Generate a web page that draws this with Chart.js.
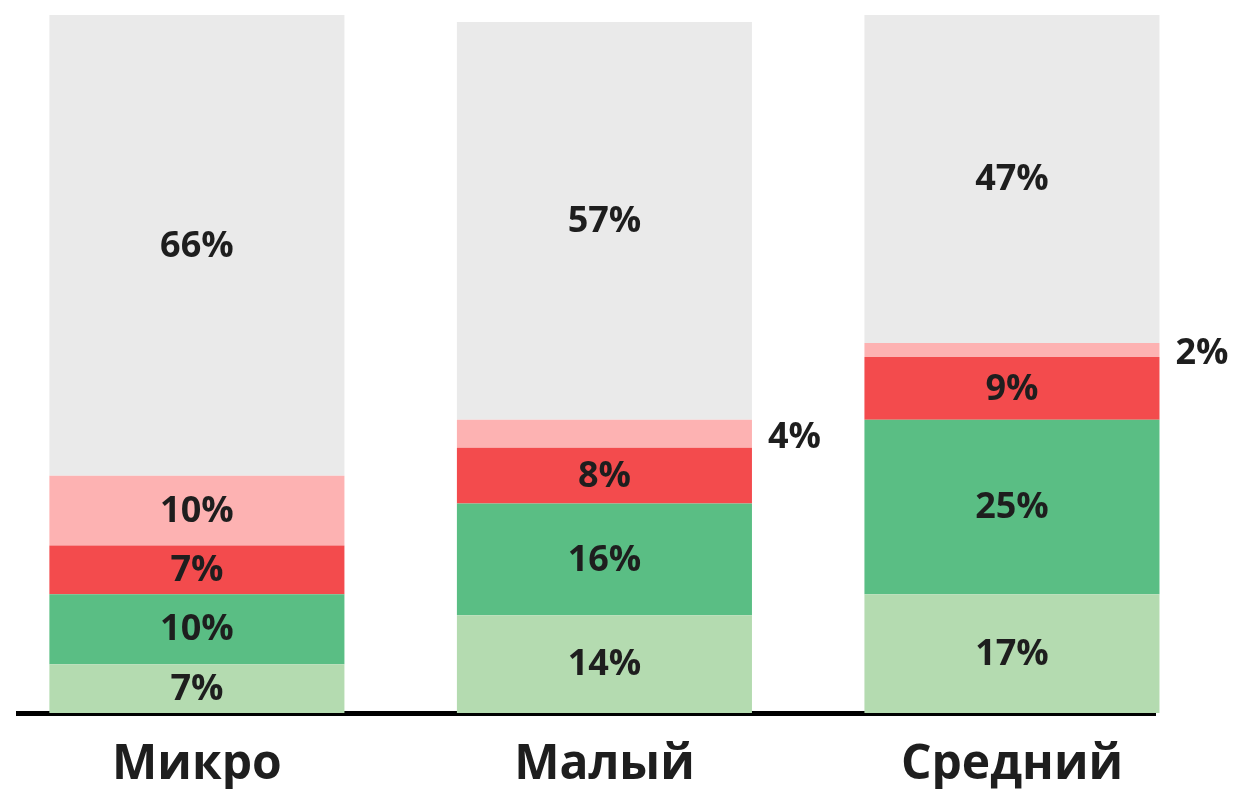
<!DOCTYPE html>
<html>
<head>
<meta charset="utf-8">
<script src="https://cdn.jsdelivr.net/npm/chart.js@4.4.1/dist/chart.umd.min.js"></script>
<style>
  html, body { margin: 0; padding: 0; background: #ffffff; }
  #wrap { width: 1237px; height: 789px; position: relative; }
</style>
</head>
<body>
<div id="wrap"><canvas id="c"></canvas></div>
<script>
const categories = ["Микро", "Малый", "Средний"];
const seriesLightGreen = [7, 14, 17];
const seriesGreen = [10, 16, 25];
const seriesRed = [7, 8, 9];
const seriesPink = [10, 4, 2];
const seriesGray = [66, 57, 47];

const seriesList = [
  { name: "Серия 1", values: seriesLightGreen, color: "#B4DBB0" },
  { name: "Серия 2", values: seriesGreen, color: "#5ABE84" },
  { name: "Серия 3", values: seriesRed, color: "#F34B4D" },
  { name: "Серия 4", values: seriesPink, color: "#FDB2B2" },
  { name: "Серия 5", values: seriesGray, color: "#EAEAEA" }
];

const FONT = "'Open Sans', 'Noto Sans', sans-serif";
const TEXT = "#1e1e1e";

const labelPlugin = {
  id: "segLabels",
  afterDraw(chart) {
    const ctx = chart.ctx;
    ctx.save();
    ctx.font = "700 36px " + FONT;
    ctx.fillStyle = TEXT;
    ctx.textBaseline = "middle";
    chart.data.datasets.forEach((ds, di) => {
      const meta = chart.getDatasetMeta(di);
      meta.data.forEach((bar, i) => {
        const v = ds.data[i].y;
        const cy = (bar.y + bar.base) / 2;
        const txt = v + "%";
        if (v < 5) {
          ctx.textAlign = "left";
          ctx.fillText(txt, bar.x + bar.width / 2 + 16, cy + 4);
        } else {
          ctx.textAlign = "center";
          ctx.fillText(txt, bar.x, cy + 1);
        }
      });
    });
    ctx.restore();
  }
};

new Chart(document.getElementById("c"), {
  type: "bar",
  data: {
    datasets: seriesList.map(s => ({
      label: s.name,
      data: s.values.map((v, i) => ({ x: i, y: v })),
      backgroundColor: s.color,
      borderWidth: 0,
      clip: false,
      categoryPercentage: 1,
      barPercentage: 0.724
    }))
  },
  options: {
    responsive: true,
    maintainAspectRatio: false,
    animation: false,
    layout: { padding: { left: 18, right: 82, top: 15, bottom: 0 } },
    plugins: { legend: { display: false }, tooltip: { enabled: false } },
    scales: {
      x: {
        type: "linear",
        stacked: true,
        offset: false,
        min: -0.439,
        max: 2.351,
        afterBuildTicks(scale) {
          scale.ticks = categories.map((_, i) => ({ value: i }));
        },
        afterFit(scale) { scale.height = 76; },
        grid: { display: false, drawTicks: false },
        border: { display: true, color: "#000000", width: 5 },
        ticks: {
          autoSkip: false,
          maxRotation: 0,
          padding: 24,
          color: TEXT,
          font: { family: FONT, size: 48, weight: "700" },
          callback: (v) => categories[v] !== undefined ? categories[v] : ""
        }
      },
      y: {
        stacked: true,
        display: false,
        min: 0,
        max: 100
      }
    }
  },
  plugins: [labelPlugin]
});
</script>
</body>
</html>
